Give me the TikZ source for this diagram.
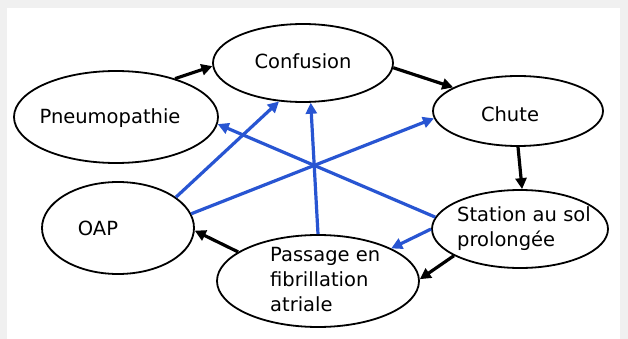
\documentclass[tikz,border=0pt]{standalone}
\usepackage{fontspec}
\setmainfont{DejaVu Sans}
\usetikzlibrary{arrows.meta, positioning, shapes.geometric}
\definecolor{bleuvif}{RGB}{40,85,210}

\begin{document}
\begin{tikzpicture}[
    x=1pt, y=-1pt,
    bulle/.style={ellipse, draw, line width=1.8pt, inner sep=0pt, fill=white},
    texte/.style={font=\fontsize{19.5}{25}\selectfont, align=left, inner sep=0pt},
    noir/.style={-{Triangle[length=11pt, width=11pt]}, line width=3.2pt, black},
    bleu/.style={-{Triangle[length=11pt, width=11pt]}, line width=3.2pt, bleuvif}
]
    % fond
    \fill[gray!12] (0,0) rectangle (628,339);
    \fill[white] (7,8) rectangle (620,339);
    \useasboundingbox (0,0) rectangle (628,339);

    % ellipses
    \node[bulle, minimum width=180pt, minimum height=78pt] (confusion) at (303,63) {};
    \node[bulle, minimum width=204pt, minimum height=92pt] (pneumo) at (116,117) {};
    \node[bulle, minimum width=170pt, minimum height=70pt] (chute) at (518,111) {};
    \node[bulle, minimum width=152pt, minimum height=92pt] (oap) at (118,228) {};
    \node[bulle, minimum width=176pt, minimum height=78pt] (station) at (520,229) {};
    \node[bulle, minimum width=202pt, minimum height=92pt] (passage) at (318,281) {};

    % textes
    \node[texte] (t-confusion) at (303,61) {Confusion};
    \node[texte] (t-pneumo) at (110,118) {Pneumopathie};
    \node[texte] (t-chute) at (510,114) {Chute};
    \node[texte] (t-oap) at (98,228) {OAP};
    \node[texte, anchor=west] (t-station) at (457,229) {Station au sol\\prolongée};
    \node[texte, anchor=west] (t-passage) at (270,280) {Passage en\\fibrillation\\atriale};

    % fleches noires
    \draw[noir] (pneumo.33) -- (confusion.182);
    \draw[noir] (confusion.-3) -- (chute.160);
    \draw[noir] (chute.-90) -- (station.87);
    \draw[noir] (station.202) -- (passage.1);
    \draw[noir] (passage.160) -- (oap.-2);

    % fleches bleues
    \draw[bleu] (oap.28) -- (confusion.238);
    \draw[bleu] (oap.11) -- (chute.185);
    \draw[bleu] (passage.90) -- (confusion.281);
    \draw[bleu] (station.172) -- (pneumo.356);
    \draw[bleu] (station.180) -- (passage.24);
\end{tikzpicture}
\end{document}
